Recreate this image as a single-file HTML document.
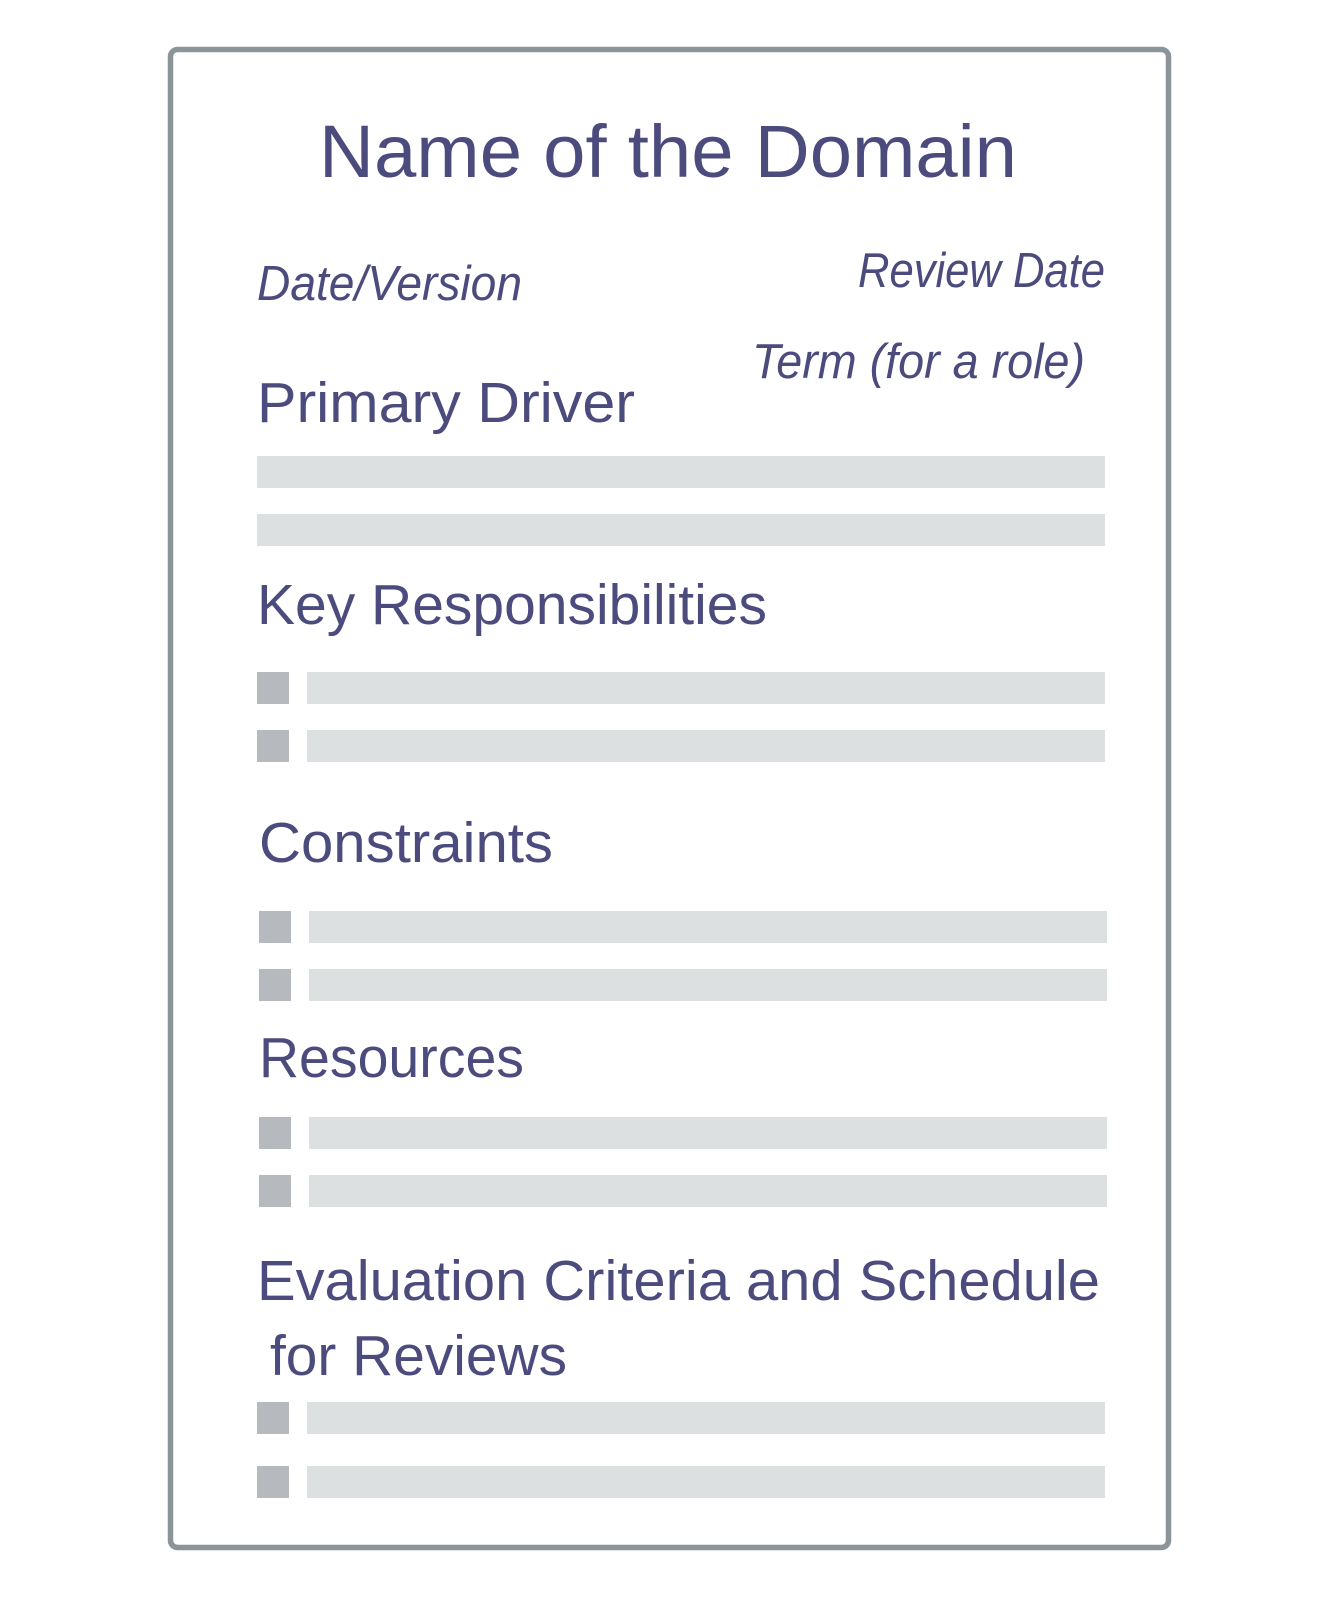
<!DOCTYPE html>
<html><head><meta charset="utf-8"><style>
html,body{margin:0;padding:0;background:#fff;width:1340px;height:1600px;overflow:hidden}
svg{display:block}
text{font-family:"Liberation Sans",sans-serif;fill:#4b4b7d}
.h{font-size:57px}
.i{font-size:49px;font-style:italic;font-weight:300}
</style></head><body>
<svg width="1340" height="1600">
<g transform="translate(-2,-2)">
<rect x="172.5" y="51.5" width="998" height="1498" rx="7" fill="#fff" stroke="#8a9499" stroke-width="5.5"/>
<text x="321" y="179" font-size="74" textLength="698" lengthAdjust="spacingAndGlyphs">Name of the Domain</text>
<text class="i" x="259" y="302" textLength="265" lengthAdjust="spacingAndGlyphs">Date/Version</text>
<text class="i" x="860" y="289" textLength="247" lengthAdjust="spacingAndGlyphs">Review Date</text>
<text class="i" x="754" y="380" textLength="333" lengthAdjust="spacingAndGlyphs">Term (for a role)</text>
<text class="h" x="259" y="424" textLength="378" lengthAdjust="spacingAndGlyphs">Primary Driver</text>
<rect x="259" y="458" width="848" height="32" fill="#dde0e1"/>
<rect x="259" y="516" width="848" height="32" fill="#dde0e1"/>
<text class="h" x="259" y="626" textLength="510" lengthAdjust="spacingAndGlyphs">Key Responsibilities</text>
<g>
<rect x="259" y="674" width="32" height="32" fill="#b6babe"/><rect x="309" y="674" width="798" height="32" fill="#dde0e1"/>
<rect x="259" y="732" width="32" height="32" fill="#b6babe"/><rect x="309" y="732" width="798" height="32" fill="#dde0e1"/>
</g>
<text class="h" x="261" y="864" textLength="294" lengthAdjust="spacingAndGlyphs">Constraints</text>
<g>
<rect x="261" y="913" width="32" height="32" fill="#b6babe"/><rect x="311" y="913" width="798" height="32" fill="#dde0e1"/>
<rect x="261" y="971" width="32" height="32" fill="#b6babe"/><rect x="311" y="971" width="798" height="32" fill="#dde0e1"/>
</g>
<text class="h" x="261" y="1079" textLength="265" lengthAdjust="spacingAndGlyphs">Resources</text>
<g>
<rect x="261" y="1119" width="32" height="32" fill="#b6babe"/><rect x="311" y="1119" width="798" height="32" fill="#dde0e1"/>
<rect x="261" y="1177" width="32" height="32" fill="#b6babe"/><rect x="311" y="1177" width="798" height="32" fill="#dde0e1"/>
</g>
<text class="h" x="259" y="1302" textLength="843" lengthAdjust="spacingAndGlyphs">Evaluation Criteria and Schedule</text>
<text class="h" x="272" y="1377" textLength="297" lengthAdjust="spacingAndGlyphs">for Reviews</text>
<g>
<rect x="259" y="1404" width="32" height="32" fill="#b6babe"/><rect x="309" y="1404" width="798" height="32" fill="#dde0e1"/>
<rect x="259" y="1468" width="32" height="32" fill="#b6babe"/><rect x="309" y="1468" width="798" height="32" fill="#dde0e1"/>
</g>
</g>
</svg>
</body></html>
